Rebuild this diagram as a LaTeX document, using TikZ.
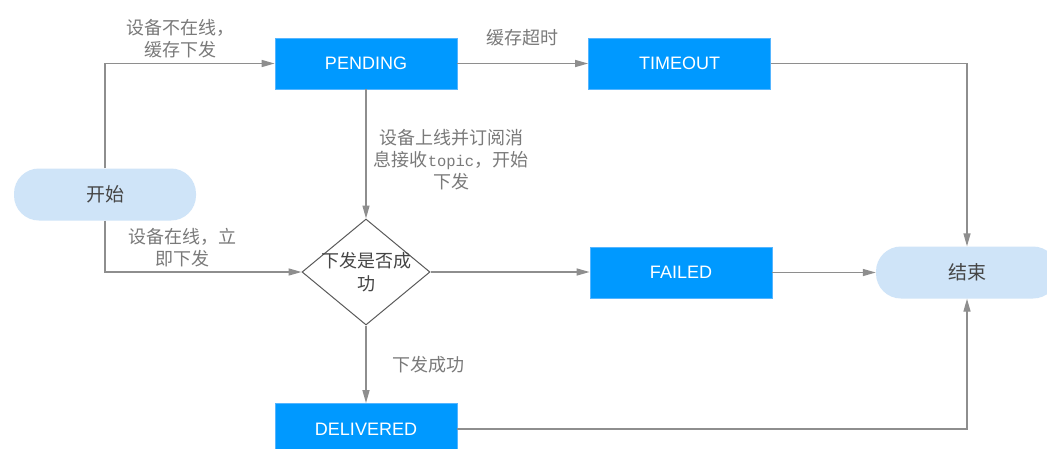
\documentclass[tikz,border=0pt]{standalone}
\usepackage{fontspec}
\setmainfont{Liberation Sans}
\setmonofont{Liberation Mono}
\newfontfamily\cjk{Noto Sans CJK SC}
\usetikzlibrary{arrows.meta,shapes.geometric}
\definecolor{boxblue}{HTML}{0099FF}
\definecolor{boxedge}{HTML}{55B5FF}
\definecolor{termfill}{HTML}{CFE4F8}
\definecolor{linegray}{HTML}{8E8E8E}
\definecolor{labelgray}{HTML}{7A7A7A}
\definecolor{darktext}{HTML}{454545}
\definecolor{diaedge}{HTML}{5A5A5A}
\begin{document}
\begin{tikzpicture}[x=1pt,y=-1pt,
  statebox/.style={rectangle, fill=boxblue, draw=boxedge, line width=0.8pt,
    minimum width=182pt, minimum height=51pt, inner sep=0pt,
    text=white, font=\fontsize{18}{20}\selectfont},
  termbox/.style={rectangle, rounded corners=25pt, fill=termfill, draw=none,
    minimum width=182pt, minimum height=52pt, inner sep=0pt,
    text=darktext, font=\cjk\fontsize{19}{22}\selectfont},
  decbox/.style={diamond, draw=diaedge, line width=1pt, fill=white,
    minimum width=128pt, minimum height=106pt, inner sep=0pt},
  lbl/.style={align=center, text=labelgray, inner sep=0pt,
    font=\cjk\fontsize{18}{22}\selectfont},
  arr/.style={draw=linegray, line width=1.4pt,
    -{Triangle[length=13pt,width=7pt]}, color=linegray},
]
\clip (0,0) rectangle (1047,448);
\fill[white] (0,0) rectangle (1047,448);

\node[termbox] (start) at (105,194.5) {开始};
\node[statebox] (pending) at (366,63.5) {PENDING};
\node[statebox] (timeout) at (679.5,63.5) {TIMEOUT};
\node[decbox] (dec) at (366,272) {};
\node[align=center, text=darktext, inner sep=0pt,
  font=\cjk\fontsize{18}{23}\selectfont] (dectext) at (366,272) {下发是否成\\功};
\node[statebox] (failed) at (681,272.5) {FAILED};
\node[termbox] (end) at (967,272.5) {结束};
\node[statebox] (delivered) at (366,429) {DELIVERED};

\draw[arr] (start.north) |- (pending.west);
\draw[arr] (start.south) |- (dec.west);
\draw[arr] (pending) -- (timeout);
\draw[arr] (pending) -- (dec);
\draw[arr] (dec.east) -- (failed.west |- dec.east);
\draw[arr] (failed) -- (end);
\draw[arr] (timeout.east) -| (end.north);
\draw[arr] (delivered.east) -| (end.south);
\draw[arr] (dec) -- (delivered);

\node[lbl] (l1) at (180,38.5) {设备不在线，\\缓存下发};
\node[lbl] (l2) at (522,38) {缓存超时};
\node[lbl] (l3) at (451,160) {设备上线并订阅消\\息接收{\fontsize{15.5}{22}\ttfamily topic}，开始\\下发};
\node[lbl] (l4) at (182,247.5) {设备在线，立\\即下发};
\node[lbl] (l5) at (428,365) {下发成功};
\end{tikzpicture}
\end{document}
